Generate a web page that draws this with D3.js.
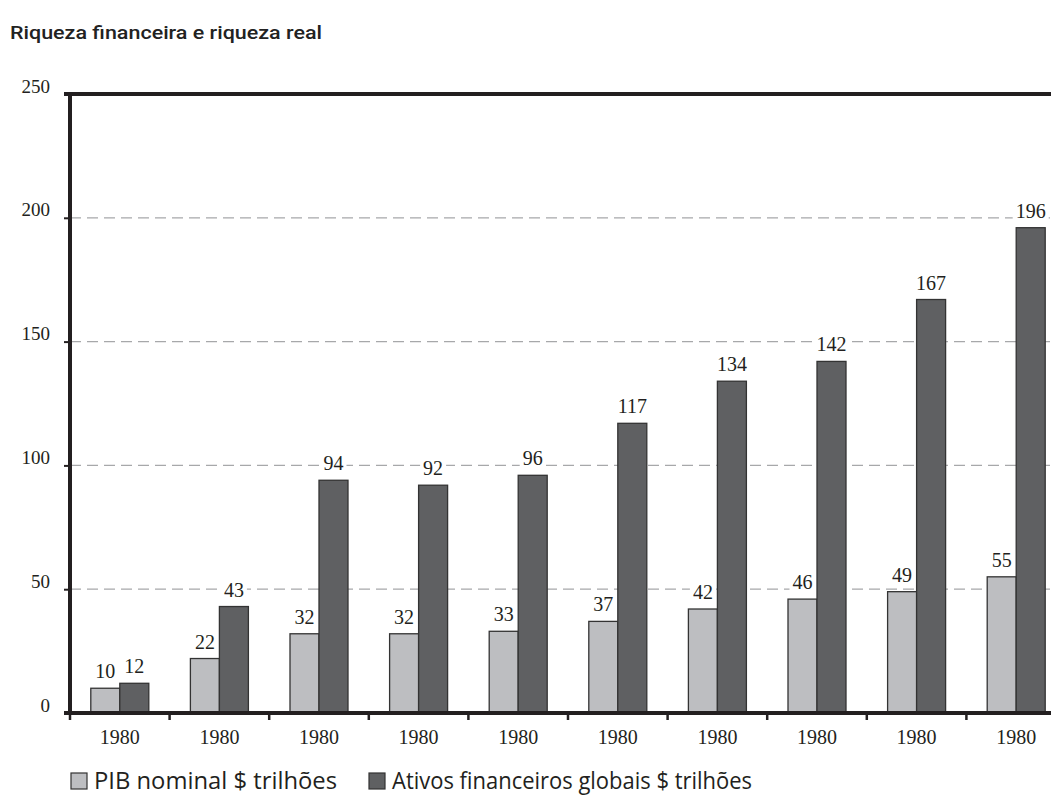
<!DOCTYPE html>
<html>
<head>
<meta charset="utf-8">
<script src="https://cdn.jsdelivr.net/npm/d3@7"></script>
<style>
  html, body { margin: 0; padding: 0; background: #fff; }
  svg { display: block; }
</style>
</head>
<body>
<svg id="chart" width="1051" height="797"></svg>
<script>
// Chart data
const categories = ["1980", "1980", "1980", "1980", "1980", "1980", "1980", "1980", "1980", "1980"];
const pibNominal = [10, 22, 32, 32, 33, 37, 42, 46, 49, 55];
const ativosFinanceiros = [12, 43, 94, 92, 96, 117, 134, 142, 167, 196];
const seriesNames = ["PIB nominal $ trilhões", "Ativos financeiros globais $ trilhões"];
const yTicks = [0, 50, 100, 150, 200, 250];

const svg = d3.select("#chart");
const W = 1051, H = 797;
const margin = { left: 70, top: 94, bottom: 713 };
const bandStep = 99.6;

const x = d3.scaleBand()
  .domain(d3.range(categories.length))
  .range([margin.left, margin.left + bandStep * categories.length])
  .paddingInner(0).paddingOuter(0);

const y = d3.scaleLinear().domain([0, 250]).range([margin.bottom, margin.top]);

const colors = ["#bdbec1", "#5f6062"];
const axisColor = "#231f20";
const serif = "'Liberation Serif', 'DejaVu Serif', serif";

// Title
svg.append("text")
  .attr("x", 10).attr("y", 39)
  .attr("font-family", "Roboto, 'Liberation Sans', sans-serif")
  .attr("font-weight", 500)
  .attr("font-size", 19)
  .attr("textLength", 312)
  .attr("lengthAdjust", "spacingAndGlyphs")
  .attr("fill", "#222")
  .text("Riqueza financeira e riqueza real");

// Dashed gridlines
svg.append("g").selectAll("line")
  .data(yTicks.filter(d => d > 0 && d < 250))
  .join("line")
  .attr("x1", margin.left).attr("x2", W)
  .attr("y1", d => y(d)).attr("y2", d => y(d))
  .attr("stroke", "#a7a8aa")
  .attr("stroke-width", 1.2)
  .attr("stroke-dasharray", "11,6");

// Bars
const bw = 29;
const groups = svg.append("g").selectAll("g")
  .data(categories.map((c, i) => i))
  .join("g");

groups.append("rect")
  .attr("x", i => x(i) + x.bandwidth() / 2 - bw)
  .attr("y", i => y(pibNominal[i]))
  .attr("width", bw)
  .attr("height", i => y(0) - y(pibNominal[i]))
  .attr("fill", colors[0])
  .attr("stroke", "#333")
  .attr("stroke-width", 1.3);

groups.append("rect")
  .attr("x", i => x(i) + x.bandwidth() / 2)
  .attr("y", i => y(ativosFinanceiros[i]))
  .attr("width", bw)
  .attr("height", i => y(0) - y(ativosFinanceiros[i]))
  .attr("fill", colors[1])
  .attr("stroke", "#333")
  .attr("stroke-width", 1.3);

// Value labels with white backing so gridlines break around them
function valueLabel(sel, values, dx) {
  const g = sel.append("g");
  g.append("text")
    .attr("x", i => x(i) + x.bandwidth() / 2 + dx)
    .attr("y", i => y(values[i]) - 10)
    .attr("text-anchor", "middle")
    .attr("font-family", serif)
    .attr("font-size", 20)
    .attr("fill", "#231f20")
    .text(i => values[i]);
  g.each(function() {
    const gg = d3.select(this);
    const bb = gg.select("text").node().getBBox();
    gg.insert("rect", "text")
      .attr("x", bb.x - 3).attr("y", bb.y)
      .attr("width", bb.width + 6).attr("height", bb.height)
      .attr("fill", "#fff");
  });
}
valueLabel(groups, pibNominal, -bw / 2);
valueLabel(groups, ativosFinanceiros, bw / 2);

// Frame: left axis, top line, baseline
const frame = svg.append("g").attr("stroke", axisColor).attr("fill", "none");
frame.append("line").attr("x1", margin.left).attr("x2", margin.left)
  .attr("y1", margin.top - 2).attr("y2", margin.bottom + 2).attr("stroke-width", 4);
frame.append("line").attr("x1", 64).attr("x2", W)
  .attr("y1", y(250)).attr("y2", y(250)).attr("stroke-width", 4);
frame.append("line").attr("x1", 64).attr("x2", W)
  .attr("y1", y(0)).attr("y2", y(0)).attr("stroke-width", 4);

// Y axis ticks and labels
const yAxis = d3.axisLeft(y).tickValues(yTicks).tickSize(6).tickPadding(14);
const yg = svg.append("g").attr("transform", `translate(${margin.left},0)`).call(yAxis);
yg.select(".domain").remove();
yg.selectAll(".tick line").attr("stroke", axisColor).attr("stroke-width", 2);
yg.selectAll(".tick text")
  .attr("font-family", serif)
  .attr("font-size", 19)
  .attr("fill", "#231f20")
  .attr("dy", "-0.1em");

// X axis: category boundaries as ticks, labels centred in each band
const xg = svg.append("g");
xg.selectAll("line")
  .data(d3.range(categories.length))
  .join("line")
  .attr("x1", i => x(i)).attr("x2", i => x(i))
  .attr("y1", y(0)).attr("y2", y(0) + 7)
  .attr("stroke", axisColor).attr("stroke-width", 2.5);
xg.selectAll("text")
  .data(categories)
  .join("text")
  .attr("x", (d, i) => x(i) + x.bandwidth() / 2)
  .attr("y", 744)
  .attr("text-anchor", "middle")
  .attr("font-family", serif)
  .attr("font-size", 20)
  .attr("fill", "#231f20")
  .text(d => d);

// Legend
const legend = svg.append("g");
const legendX = [71, 369];
const legendTextLen = [243, 360];
seriesNames.forEach((name, k) => {
  legend.append("rect")
    .attr("x", legendX[k]).attr("y", 773)
    .attr("width", 16).attr("height", 16)
    .attr("fill", colors[k])
    .attr("stroke", "#333").attr("stroke-width", 1.2);
  legend.append("text")
    .attr("x", legendX[k] + 23).attr("y", 789)
    .attr("font-family", "'Open Sans', sans-serif")
    .attr("font-size", 24)
    .attr("textLength", legendTextLen[k])
    .attr("lengthAdjust", "spacingAndGlyphs")
    .attr("fill", "#231f20")
    .text(name);
});
</script>
</body>
</html>
